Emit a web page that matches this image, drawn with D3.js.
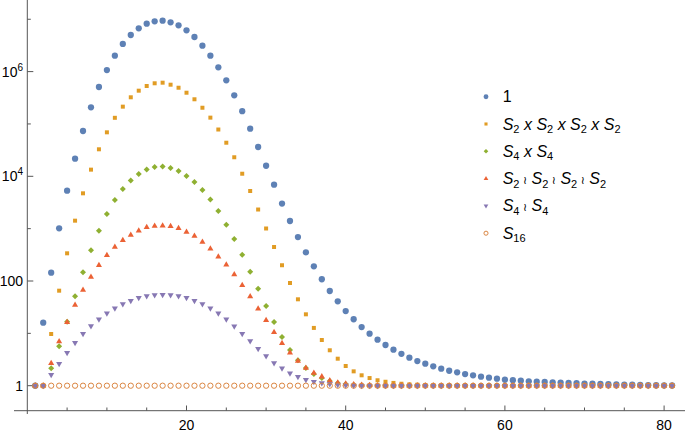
<!DOCTYPE html>
<html><head><meta charset="utf-8">
<script src="https://cdn.jsdelivr.net/npm/d3@7"></script>
<style>body{margin:0;background:#fff}svg{display:block;font-family:"Liberation Sans",Arial,Helvetica,sans-serif}</style>
</head><body><svg id="c" width="685" height="431"></svg>
<script>
const xValues = d3.range(1, 82);

const s_trivial = [
 1, 16, 144, 1016, 5310, 21700, 73300, 208000, 508000, 1.07e6,
 2.01e6, 3.37e6, 5.0e6, 6.72e6, 8.22e6, 9.14e6, 9.38e6, 8.75e6, 7.66e6, 6.15e6,
 4.58e6, 3.12e6, 2.01e6, 1.21e6, 682000, 352000, 175000, 81100, 36300, 15900,
 6910, 3020, 1400, 692, 353, 191, 108, 64.4, 40.9, 26.7,
 18.6, 13.2, 9.85, 7.56, 5.99, 4.87, 4.07, 3.43, 2.96, 2.63,
 2.35, 2.11, 1.93, 1.80, 1.67, 1.58, 1.49, 1.42, 1.36, 1.30,
 1.27, 1.25, 1.21, 1.19, 1.18, 1.16, 1.15, 1.13, 1.12, 1.10,
 1.09, 1.08, 1.07, 1.06, 1.05, 1.045, 1.035, 1.03, 1.02, 1.015, 1.01];

const s_S2x4 = [
 1, 1, 9.72, 65.3, 338, 1420, 4730, 13400, 32800, 69200,
 131000, 214000, 323000, 432000, 531000, 598000, 614000, 562000, 492000, 395000,
 296000, 204000, 132000, 78300, 43800, 23100, 11200, 5240, 2320, 1007,
 446, 200, 91.6, 44.7, 23.1, 12.7, 7.46, 4.75, 3.28, 2.38,
 1.88, 1.58, 1.40, 1.27, 1.19, 1.13, 1.09, 1.06, 1.045, 1.03,
 1.02, 1.015, 1.01, 1.005, 1, 1, 1, 1, 1, 1,
 1, 1, 1, 1, 1, 1, 1, 1, 1, 1,
 1, 1, 1, 1, 1, 1, 1, 1, 1, 1, 1];

const s_S4xS4 = [
 1, 1, 2.15, 5.66, 16.7, 51.3, 147, 386, 910, 1900,
 3530, 5720, 8310, 11070, 13490, 15060, 15400, 14400, 12600, 10100,
 7780, 5470, 3600, 2170, 1190, 634, 318, 151, 71.3, 33.3,
 16.5, 8.51, 4.81, 3.06, 2.18, 1.67, 1.40, 1.23, 1.13, 1.08,
 1.045, 1.02, 1.01, 1, 1, 1, 1, 1, 1, 1,
 1, 1, 1, 1, 1, 1, 1, 1, 1, 1,
 1, 1, 1, 1, 1, 1, 1, 1, 1, 1,
 1, 1, 1, 1, 1, 1, 1, 1, 1, 1, 1];

const s_S2wr4 = [
 1, 1, 2.69, 6.99, 16.3, 34.8, 67.3, 119, 200, 310,
 446, 599, 756, 914, 1060, 1120, 1140, 1110, 1016, 863,
 724, 556, 414, 291, 205, 133, 83.1, 50.6, 29.6, 17.8,
 10.5, 6.45, 4.27, 2.96, 2.18, 1.75, 1.49, 1.25, 1.14, 1.09,
 1.05, 1.03, 1.02, 1.01, 1, 1, 1, 1, 1, 1,
 1, 1, 1, 1, 1, 1, 1, 1, 1, 1,
 1, 1, 1, 1, 1, 1, 1, 1, 1, 1,
 1, 1, 1, 1, 1, 1, 1, 1, 1, 1, 1];

const s_S4wrS4 = [
 1, 1, 1.62, 2.62, 4.25, 6.60, 9.80, 13.8, 18.6, 24.2,
 30.1, 36.4, 42.0, 48.0, 51.7, 54.0, 54.7, 54.0, 51.7, 48.0,
 42.0, 36.4, 30.1, 24.2, 18.6, 13.6, 9.85, 7.14, 5.09, 3.69,
 2.71, 2.15, 1.73, 1.49, 1.30, 1.19, 1.13, 1.08, 1.045, 1.02,
 1.01, 1, 1, 1, 1, 1, 1, 1, 1, 1,
 1, 1, 1, 1, 1, 1, 1, 1, 1, 1,
 1, 1, 1, 1, 1, 1, 1, 1, 1, 1,
 1, 1, 1, 1, 1, 1, 1, 1, 1, 1, 1];

const s_S16 = [
 1, 1, 1, 1, 1, 1, 1, 1, 1, 1,
 1, 1, 1, 1, 1, 1, 1, 1, 1, 1,
 1, 1, 1, 1, 1, 1, 1, 1, 1, 1,
 1, 1, 1, 1, 1, 1, 1, 1, 1, 1,
 1, 1, 1, 1, 1, 1, 1, 1, 1, 1,
 1, 1, 1, 1, 1, 1, 1, 1, 1, 1,
 1, 1, 1, 1, 1, 1, 1, 1, 1, 1,
 1, 1, 1, 1, 1, 1, 1, 1, 1, 1, 1];

const seriesLabels = ["1", "S_2 x S_2 x S_2 x S_2", "S_4 x S_4", "S_2 \u2240 S_2 \u2240 S_2 \u2240 S_2", "S_4 \u2240 S_4", "S_16"];
const yMajorTicks = [1, 100, 1e4, 1e6];
const yTickLabels = ["1", "100", "10^4", "10^6"];
const yMinorTicks = [10, 1e3, 1e5, 1e7];
const xMajorTicks = [20, 40, 60, 80];
const xMinorTicks = [5, 10, 15, 25, 30, 35, 45, 50, 55, 65, 70, 75];

const series = [
  {values: s_trivial, color: "#5E81B5", shape: "circle"},
  {values: s_S2x4,   color: "#E19C24", shape: "square"},
  {values: s_S4xS4,  color: "#8FB032", shape: "diamond"},
  {values: s_S2wr4,  color: "#EB6235", shape: "up"},
  {values: s_S4wrS4, color: "#8778B3", shape: "down"},
  {values: s_S16,    color: "#DB8642", shape: "open"}
];

const svg = d3.select("#c");
const x = d3.scaleLinear().domain([0, 80]).range([27.3, 664.1]);
const y = d3.scaleLog().domain([1, 1e7]).range([385.7, 19.25]);
const axisColor = "#555";

function markerPath(shape, k) {
  switch (shape) {
    case "circle": return d3.symbol(d3.symbolCircle, 31 * k)();
    case "square": return d3.symbol(d3.symbolSquare, 16 * k)();
    case "diamond": return d3.symbol(d3.symbolSquare, 18 * k)();
    case "up": return d3.symbol(d3.symbolTriangle, 16 * k)();
    case "down": return d3.symbol(d3.symbolTriangle, 16 * k)();
    case "open": return d3.symbol(d3.symbolCircle, 22 * k)();
  }
}
function markerRot(shape) {
  return shape === "diamond" ? 45 : shape === "down" ? 180 : 0;
}

// axes
const axes = svg.append("g");
axes.append("line").attr("x1", 14).attr("x2", 685).attr("y1", 410.7).attr("y2", 410.7)
  .attr("stroke", axisColor).attr("stroke-width", 1);
axes.append("line").attr("x1", x(0)).attr("x2", x(0)).attr("y1", 0).attr("y2", 414)
  .attr("stroke", axisColor).attr("stroke-width", 1);

axes.selectAll(".xmaj").data(xMajorTicks).join("line")
  .attr("x1", d => x(d)).attr("x2", d => x(d)).attr("y1", 410.7).attr("y2", 405.5)
  .attr("stroke", axisColor);
axes.selectAll(".xmin").data(xMinorTicks).join("line")
  .attr("x1", d => x(d)).attr("x2", d => x(d)).attr("y1", 410.7).attr("y2", 407.5)
  .attr("stroke", axisColor);
axes.selectAll(".xlab").data(xMajorTicks).join("text")
  .attr("x", d => x(d)).attr("y", 429.5).attr("text-anchor", "middle")
  .attr("font-size", 14).attr("fill", "#000").text(d => d);

axes.selectAll(".ymaj").data(yMajorTicks).join("line")
  .attr("x1", x(0)).attr("x2", x(0) + 6).attr("y1", d => y(d)).attr("y2", d => y(d))
  .attr("stroke", axisColor);
axes.selectAll(".ymin").data(yMinorTicks).join("line")
  .attr("x1", x(0)).attr("x2", x(0) + 3.5).attr("y1", d => y(d)).attr("y2", d => y(d))
  .attr("stroke", axisColor);
yMajorTicks.forEach((v, i) => {
  const t = axes.append("text").attr("x", 23).attr("y", y(v) + 5)
    .attr("text-anchor", "end").attr("font-size", 14).attr("fill", "#000");
  const lab = yTickLabels[i];
  if (lab.includes("^")) {
    const [b, e] = lab.split("^");
    t.append("tspan").text(b);
    t.append("tspan").attr("font-size", 10).attr("dy", -6).text(e);
  } else t.text(lab);
});

// data
series.forEach(s => {
  const g = svg.append("g");
  const pts = xValues.map((xv, i) => [xv, s.values[i]]);
  g.selectAll("path").data(pts).join("path")
    .attr("transform", d => `translate(${x(d[0])},${y(d[1])}) rotate(${markerRot(s.shape)})`)
    .attr("d", markerPath(s.shape, 1))
    .attr("fill", s.shape === "open" ? "none" : s.color)
    .attr("stroke", s.shape === "open" ? s.color : "none")
    .attr("stroke-width", 1);
});

// legend
const legY0 = 96.7, legDy = 27.3, legMX = 486, legTX = 502.7;
series.forEach((s, i) => {
  const cy = legY0 + i * legDy;
  svg.append("path")
    .attr("transform", `translate(${legMX},${cy}) rotate(${markerRot(s.shape)})`)
    .attr("d", markerPath(s.shape, 0.6))
    .attr("fill", s.shape === "open" ? "none" : s.color)
    .attr("stroke", s.shape === "open" ? s.color : "none")
    .attr("stroke-width", 1);
  const t = svg.append("text").attr("x", legTX).attr("y", cy + 5.5)
    .attr("font-size", 16).attr("fill", "#000");
  const tokens = seriesLabels[i].split(" ");
  let pendingDy = 0;
  const add = (txt, attrs) => {
    const sp = t.append("tspan").text(txt);
    Object.entries(attrs || {}).forEach(([k, v]) => sp.attr(k, v));
    if (pendingDy) { sp.attr("dy", pendingDy + (attrs && attrs.dy ? attrs.dy : 0)); pendingDy = 0; }
    return sp;
  };
  tokens.forEach((tok, j) => {
    const pre = j > 0 ? " " : "";
    if (tok.startsWith("S_")) {
      add(pre + "S", {"font-style": "italic"});
      add(tok.slice(2), {"font-size": 11, dy: 3.5});
      pendingDy = -3.5;
    } else if (tok === "x") {
      add(pre, {});
      add("x", {"font-style": "italic"});
    } else if (tok === "\u2240") {
      add(pre + tok, {"font-size": 11, "font-family": "DejaVu Sans"});
    } else {
      add(pre + tok, {});
    }
  });
});
</script></body></html>
